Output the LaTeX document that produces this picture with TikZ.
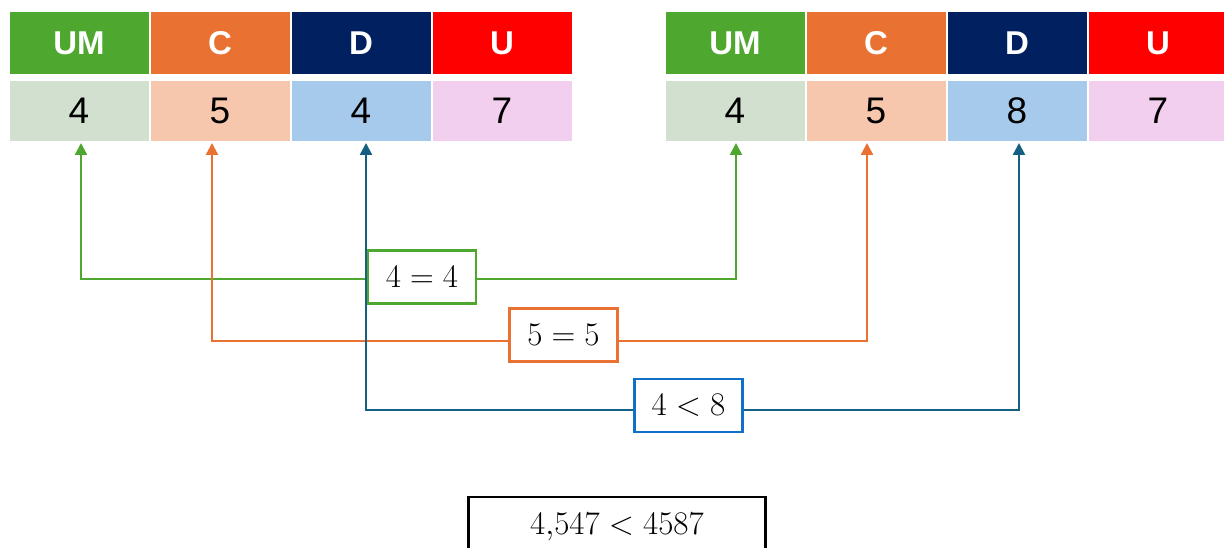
\RequirePackage{fix-cm}
\documentclass[tikz,border=0pt]{standalone}
\usepackage[no-math]{fontspec}
\newfontfamily\cellfont{Liberation Sans}
\usetikzlibrary{arrows.meta}
\definecolor{hgreen}{HTML}{4EA72E}
\definecolor{horange}{HTML}{E97132}
\definecolor{hnavy}{HTML}{002060}
\definecolor{hred}{HTML}{FF0000}
\definecolor{vgreen}{HTML}{D1E0CF}
\definecolor{vorange}{HTML}{F6C6AD}
\definecolor{vblue}{HTML}{A6CAEC}
\definecolor{vpink}{HTML}{F2CEEF}
\definecolor{lblue}{HTML}{156082}
\definecolor{bblue}{HTML}{1070C8}
\tikzset{
  headcell/.style={minimum width=139pt, minimum height=62pt, inner sep=0pt, text=white,
     font=\cellfont\fontsize{33}{33}\selectfont\bfseries},
  valcell/.style={minimum width=139pt, minimum height=60pt, inner sep=0pt, text=black,
     font=\cellfont\fontsize{37}{37}\selectfont},
  conn/.style={line width=2.4pt, {Triangle[length=12pt,width=12pt]}-{Triangle[length=12pt,width=12pt]}},
  labbox/.style={draw, fill=white, line width=2.4pt, minimum width=108pt, minimum height=53pt,
     inner sep=0pt, font=\fontsize{33}{33}\selectfont}
}
\begin{document}
\begin{tikzpicture}[x=1pt,y=-1pt]
\useasboundingbox[fill=white] (0,0) rectangle (1224,548);
% left table
\node[headcell, fill=hgreen] (lh1) at (79,43) {UM};
\node[headcell, fill=horange] (lh2) at (220,43) {C};
\node[headcell, fill=hnavy] (lh3) at (361,43) {D};
\node[headcell, fill=hred] (lh4) at (502,43) {U};
\node[valcell, fill=vgreen] (lv1) at (79,111) {4};
\node[valcell, fill=vorange] (lv2) at (220,111) {5};
\node[valcell, fill=vblue] (lv3) at (361,111) {4};
\node[valcell, fill=vpink] (lv4) at (502,111) {7};
% right table
\node[headcell, fill=hgreen] (rh1) at (735,43) {UM};
\node[headcell, fill=horange] (rh2) at (876,43) {C};
\node[headcell, fill=hnavy] (rh3) at (1017,43) {D};
\node[headcell, fill=hred] (rh4) at (1158,43) {U};
\node[valcell, fill=vgreen] (rv1) at (735,111) {4};
\node[valcell, fill=vorange] (rv2) at (876,111) {5};
\node[valcell, fill=vblue] (rv3) at (1017,111) {8};
\node[valcell, fill=vpink] (rv4) at (1158,111) {7};
% connector anchors
\coordinate (gL) at (81,143);
\coordinate (gR) at (736,143);
\coordinate (gM) at (400,279);
\coordinate (oL) at (212,143);
\coordinate (oR) at (867,143);
\coordinate (oM) at (560,341);
\coordinate (bL) at (366,143);
\coordinate (bR) at (1019,143);
\coordinate (bM) at (690,410);
% green and orange connectors
\draw[conn, draw=hgreen] (gL) |- (gM) -| (gR);
\draw[conn, draw=horange] (oL) |- (oM) -| (oR);
\node[labbox, draw=hgreen] (glab) at (422,277) {$4=4$};
\node[labbox, draw=horange] (olab) at (563.5,335) {$5=5$};
% blue connector
\draw[conn, draw=lblue] (bL) |- (bM) -| (bR);
\node[labbox, draw=bblue] (blab) at (688.5,405.5) {$4<8$};
% result
\node[draw=black, line width=2.4pt, fill=white, minimum width=297pt, minimum height=60pt,
  inner sep=0pt, font=\fontsize{33}{33}\selectfont] (res) at (617,527) {$4{,}547<4587$};
\end{tikzpicture}
\end{document}
